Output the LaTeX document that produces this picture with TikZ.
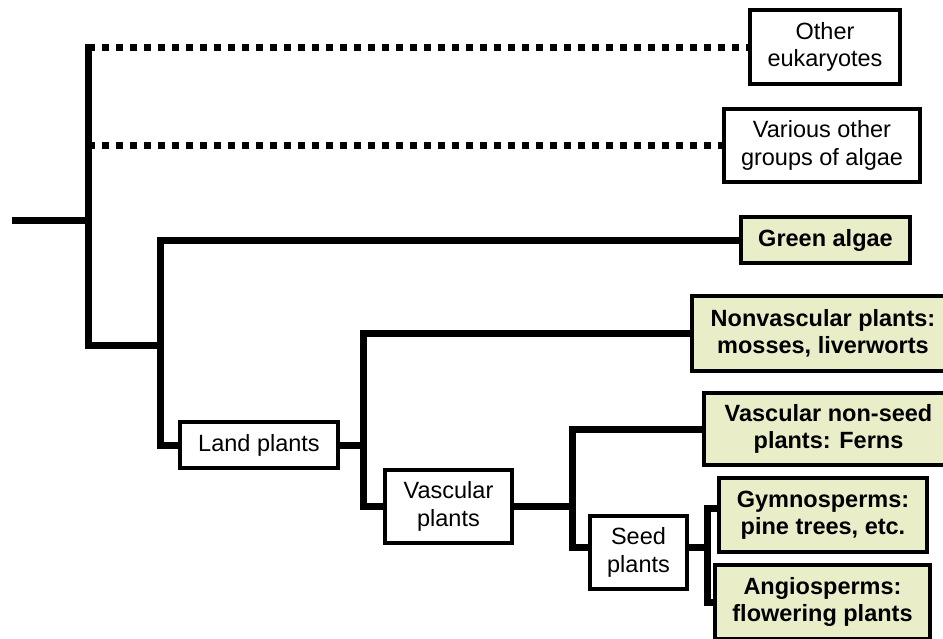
\documentclass[tikz,border=0pt]{standalone}
\usepackage{fontspec}
\setmainfont{Liberation Sans}
\usetikzlibrary{calc}
\definecolor{leaf}{RGB}{233,238,200}
\begin{document}
\begin{tikzpicture}[x=1pt,y=-1pt,
  tree/.style={line width=7pt,line join=miter,line cap=butt},
  dotline/.style={line width=7pt,dash pattern=on 7pt off 7pt},
  wbox/.style={draw,line width=4pt,fill=white,align=center,inner sep=0pt,
     font=\fontsize{23.5}{27.5}\selectfont},
  gbox/.style={draw,line width=4pt,fill=leaf,align=center,inner sep=0pt,
     font=\fontsize{23.5}{27.5}\selectfont\bfseries}]
\useasboundingbox[fill=white] (0,0) rectangle (943,638);
% taxa boxes
\node[wbox,minimum width=150pt,minimum height=74pt] (oe) at (825,47) {Other\\eukaryotes};
\node[wbox,minimum width=196pt,minimum height=73pt] (vo) at (822,145.5) {Various other\\groups of algae};
\node[gbox,minimum width=169pt,minimum height=46pt] (ga) at (825.5,240) {Green algae};
\node[gbox,minimum width=262pt,minimum height=75pt] (nv) at (823,333.5) {Nonvascular plants:\\mosses, liverworts};
\node[gbox,minimum width=249pt,minimum height=72pt] (fe) at (828.5,429) {Vascular non-seed\\plants: Ferns};
\node[gbox,minimum width=208pt,minimum height=74pt] (gy) at (823,515) {Gymnosperms:\\pine trees, etc.};
\node[gbox,minimum width=215pt,minimum height=74pt] (an) at (822.5,602) {Angiosperms:\\flowering plants};
% clade boxes
\node[wbox,minimum width=158pt,minimum height=46pt] (lp) at (259,445) {Land plants};
\node[wbox,minimum width=127pt,minimum height=73pt] (vp) at (448.5,506.5) {Vascular\\plants};
\node[wbox,minimum width=97pt,minimum height=73pt] (sp) at (638.5,552.5) {Seed\\plants};
% junctions
\coordinate (r0) at (12,220);
\coordinate (j1) at (88,220);
\coordinate (j2) at (160,345);
\coordinate (j3) at (363,445);
\coordinate (j4) at (572,506.5);
\coordinate (j5) at (707,547);
% connectors
\draw[tree] (r0) -- (j1);
\draw[dotline] (j1 |- oe.west) -- (oe.west);
\draw[dotline] (j1 |- vo.west) -- (vo.west);
\draw[tree] ($(j1 |- oe.west)+(0,-3.5)$) -- (j1 |- j2) -- (j2);
\draw[tree] (ga.west) -| (j2 |- lp.west) -- (lp.west);
\draw[tree] (lp.east) -- (j3);
\draw[tree] (nv.west) -| (j3 |- vp.west) -- (vp.west);
\draw[tree] (vp.east) -- (j4);
\draw[tree] (fe.west) -| (j4 |- j5) -- ($(sp.west)+(0,-5.5)$);
\draw[tree] ($(sp.east)+(0,-5.5)$) -- (j5);
\draw[tree] ($(gy.west)+(0,-7)$) -| (j5 |- an.west) -- (an.west);
\end{tikzpicture}
\end{document}
